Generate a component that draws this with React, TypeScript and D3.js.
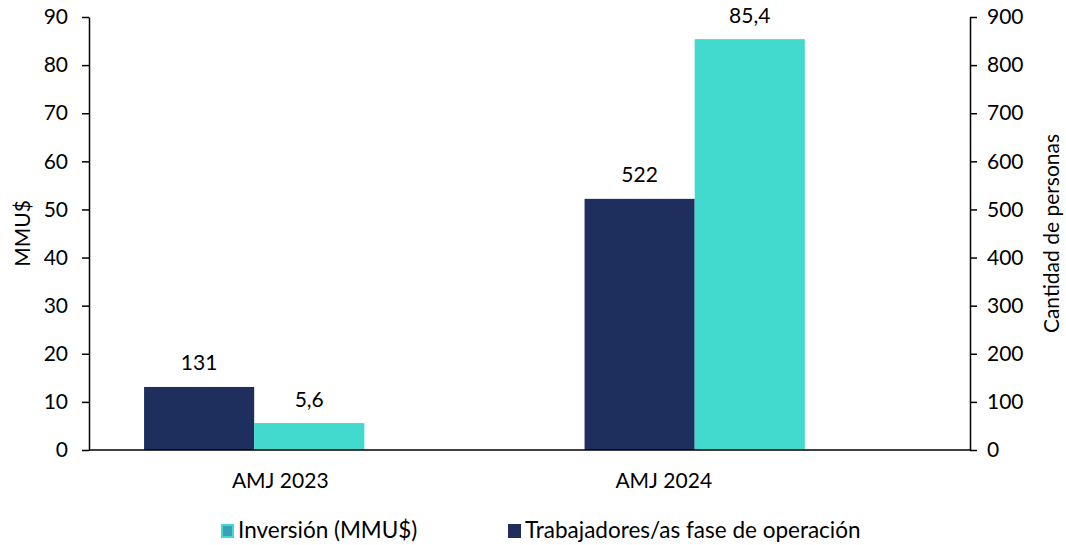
import React, { useEffect, useRef } from 'react';
import * as d3 from 'd3';

// data
const categories = ['AMJ 2023', 'AMJ 2024'];
const inversion = [5.6, 85.4]; // MMU$ (left axis)
const trabajadores = [131, 522]; // personas (right axis)
const leftTicks = [0, 10, 20, 30, 40, 50, 60, 70, 80, 90];
const rightTicks = [0, 100, 200, 300, 400, 500, 600, 700, 800, 900];
const catLabelShift = [-29, -86];

const NAVY = '#1e2f5e';
const TURQ = '#42d9cf';
const FONT = 'Lato, "Open Sans", sans-serif';

const W = 1066, H = 545;
const m = { top: 17, left: 89, right: 96, bottom: 95 };

export default function App() {
    const ref = useRef<SVGSVGElement>(null);

    useEffect(() => {
        const svg = d3.select(ref.current);
        svg.selectAll('*').remove();

        const innerW = W - m.left - m.right;
        const innerH = H - m.top - m.bottom;
        const fmt = d3.formatLocale({ decimal: ',', thousands: '.', grouping: [3], currency: ['$', ''] }).format;

        const g = svg.append('g').attr('transform', `translate(${m.left},${m.top})`);

        const x0 = d3.scaleBand().domain(categories).range([0, innerW]).padding(0);
        // three slots per category (third one empty, like the excel source)
        const x1 = d3.scaleBand()
            .domain(['trab', 'inv', 'empty'])
            .range([x0.bandwidth() * 0.125, x0.bandwidth() * 0.875]);

        const yL = d3.scaleLinear().domain([0, 90]).range([innerH, 0]);
        const yR = d3.scaleLinear().domain([0, 900]).range([innerH, 0]);

        const groups = g.selectAll('.cat')
            .data(categories)
            .enter()
            .append('g')
            .attr('transform', d => `translate(${x0(d)},0)`);

        // trabajadores bars (right axis)
        groups.append('rect')
            .attr('x', x1('trab')!)
            .attr('width', x1.bandwidth())
            .attr('y', (d, i) => yR(trabajadores[i]))
            .attr('height', (d, i) => innerH - yR(trabajadores[i]))
            .attr('fill', NAVY);

        // inversion bars (left axis)
        groups.append('rect')
            .attr('x', x1('inv')!)
            .attr('width', x1.bandwidth())
            .attr('y', (d, i) => yL(inversion[i]))
            .attr('height', (d, i) => innerH - yL(inversion[i]))
            .attr('fill', TURQ);

        const lblStyle = (s: any) => s
            .attr('text-anchor', 'middle')
            .attr('font-family', FONT)
            .attr('font-size', 21)
            .attr('fill', '#000');

        groups.append('text')
            .attr('x', x1('trab')! + x1.bandwidth() / 2)
            .attr('y', (d, i) => yR(trabajadores[i]) - 17)
            .text((d, i) => fmt('d')(trabajadores[i]))
            .call(lblStyle);

        groups.append('text')
            .attr('x', x1('inv')! + x1.bandwidth() / 2)
            .attr('y', (d, i) => yL(inversion[i]) - 16)
            .text((d, i) => fmt('.1f')(inversion[i]))
            .call(lblStyle);

        // x axis line + category labels
        g.append('line')
            .attr('x1', 0).attr('x2', innerW)
            .attr('y1', innerH).attr('y2', innerH)
            .attr('stroke', '#000').attr('stroke-width', 1.5);

        g.selectAll('.catlbl')
            .data(categories)
            .enter()
            .append('text')
            .attr('x', (d, i) => x0(d)! + x0.bandwidth() / 2 + catLabelShift[i])
            .attr('y', innerH + 38)
            .text(d => d)
            .call(lblStyle);

        const styleAxis = (a: any) => {
            a.select('.domain').attr('stroke', '#000').attr('stroke-width', 1.5);
            a.selectAll('.tick line').attr('stroke', '#000').attr('stroke-width', 1.5);
            a.selectAll('.tick text').attr('font-size', 21).attr('font-family', FONT).attr('fill', '#000');
        };

        g.append('g')
            .call(d3.axisLeft(yL).tickValues(leftTicks).tickSize(7).tickSizeOuter(0).tickPadding(14))
            .call(styleAxis);

        g.append('g')
            .attr('transform', `translate(${innerW},0)`)
            .call(d3.axisRight(yR).tickValues(rightTicks).tickSize(7).tickSizeOuter(0).tickPadding(10))
            .call(styleAxis);

        // axis titles
        svg.append('text')
            .attr('transform', `translate(30,${m.top + innerH / 2}) rotate(-90)`)
            .attr('text-anchor', 'middle')
            .attr('font-family', FONT).attr('font-size', 21)
            .text('MMU$');

        svg.append('text')
            .attr('transform', `translate(1059,${m.top + innerH / 2}) rotate(-90)`)
            .attr('text-anchor', 'middle')
            .attr('font-family', FONT).attr('font-size', 21)
            .text('Cantidad de personas');

        // legend
        const legend = [
            { label: 'Inversión (MMU$)', fill: '#3aa0b8', stroke: TURQ, x: 221 },
            { label: 'Trabajadores/as fase de operación', fill: NAVY, stroke: NAVY, x: 508 },
        ];
        const lg = svg.selectAll('.lg')
            .data(legend)
            .enter()
            .append('g')
            .attr('transform', d => `translate(${d.x},524)`);
        lg.append('rect')
            .attr('x', 1).attr('y', 1)
            .attr('width', 11).attr('height', 12)
            .attr('fill', d => d.fill)
            .attr('stroke', d => d.stroke)
            .attr('stroke-width', 2);
        lg.append('text')
            .attr('x', 17)
            .attr('y', 14)
            .attr('font-family', FONT).attr('font-size', 22.5)
            .text(d => d.label);
    }, []);

    return (
        <svg
            ref={ref}
            width={W}
            height={H}
            style={{ position: 'absolute', left: 0, top: 0, background: '#fff' }}
        />
    );
}
